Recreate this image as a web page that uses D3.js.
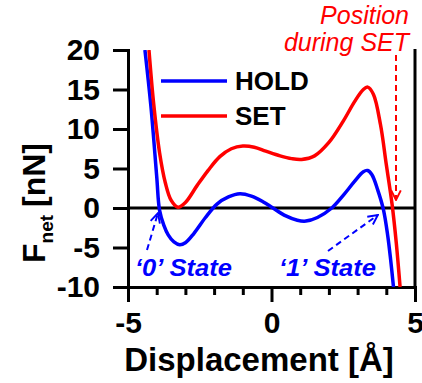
<!DOCTYPE html>
<html>
<head>
<meta charset="utf-8">
<script src="https://cdn.jsdelivr.net/npm/d3@7"></script>
<style>
  body { margin: 0; background: #fff; }
  svg { display: block; font-family: "Liberation Sans", Arial, sans-serif; }
</style>
</head>
<body>
<div id="chart"></div>
<script>
// Data
const holdX = [-4.41, -4.2, -4.0, -3.9, -3.75, -3.6, -3.4, -3.2, -3.0, -2.7, -2.3, -1.9, -1.5, -1.1, -0.7, -0.3, 0.05, 0.5, 0.9, 1.2, 1.6, 2.1, 2.5, 2.9, 3.2, 3.35, 3.5, 3.7, 3.9, 4.05, 4.15, 4.25];
const holdF = [20, 12.8, 4.0, -0.3, -2.2, -3.4, -4.3, -4.65, -4.4, -3.2, -1.2, 0.5, 1.4, 1.8, 1.5, 0.8, 0, -1.0, -1.55, -1.65, -1.2, 0, 1.6, 3.4, 4.6, 4.75, 4.2, 2.3, -0.2, -3.5, -6.5, -10];
const setX = [-4.27, -4.1, -3.9, -3.7, -3.5, -3.26, -3.0, -2.6, -2.2, -1.8, -1.4, -1.0, -0.6, -0.2, 0.3, 0.7, 1.05, 1.5, 2.0, 2.5, 2.9, 3.2, 3.35, 3.55, 3.8, 4.0, 4.2, 4.35, 4.48];
const setF = [20, 13, 7, 3.2, 1.0, 0.1, 0.7, 2.8, 4.8, 6.5, 7.5, 7.85, 7.7, 7.2, 6.6, 6.25, 6.15, 6.6, 8.3, 11, 13.5, 15, 15.3, 14.4, 10.5, 5.5, 0.5, -4.5, -10];
const seriesNames = ['HOLD', 'SET'];
const seriesColors = ['#0000ff', '#ff0000'];
const xTicks = [-5, 0, 5];
const xMinorTicks = [-4, -3, -2, -1, 1, 2, 3, 4];
const yTicks = [-10, -5, 0, 5, 10, 15, 20];
const state0 = -3.92;
const state1 = 3.88;

const w = 422, h = 383;
const margin = { top: 50, right: 7, bottom: 96, left: 128 };

const svg = d3.select('#chart').append('svg')
  .attr('width', w).attr('height', h);

const xScale = d3.scaleLinear().domain([-5, 5]).range([margin.left, w - margin.right]);
const yScale = d3.scaleLinear().domain([-10, 20]).range([h - margin.bottom, margin.top]);

svg.append('clipPath').attr('id', 'plot')
  .append('rect')
  .attr('x', margin.left).attr('y', margin.top)
  .attr('width', w - margin.left - margin.right)
  .attr('height', h - margin.top - margin.bottom);

// axes
const yAxis = d3.axisLeft(yScale).tickValues(yTicks).tickSize(15).tickPadding(13);
const gy = svg.append('g').attr('transform', `translate(${margin.left},0)`).call(yAxis);

const xAxis = d3.axisBottom(xScale).tickValues(xTicks).tickSize(15).tickPadding(14).tickFormat(d3.format('d'));
const gx = svg.append('g').attr('transform', `translate(0,${yScale(-10)})`).call(xAxis);
const xMinor = d3.axisBottom(xScale).tickValues(xMinorTicks).tickSize(8).tickFormat('');
const gxm = svg.append('g').attr('transform', `translate(0,${yScale(-10)})`).call(xMinor);
gxm.select('.domain').remove();

[gy, gx, gxm].forEach(g => {
  g.selectAll('.domain').attr('stroke', '#000').attr('stroke-width', 3);
  g.selectAll('.tick line').attr('stroke', '#000').attr('stroke-width', 3);
  g.selectAll('.tick text')
    .attr('fill', '#000')
    .style('font-size', '30px')
    .style('font-weight', 'bold')
    .style('font-family', '"Liberation Sans", Arial, sans-serif');
});
gx.selectAll('.tick text').attr('dy', '0.55em');
gx.selectAll('.tick text').text(d => d < 0 ? '-' + Math.abs(d) : d);
gy.selectAll('.tick text').text(d => d < 0 ? '-' + Math.abs(d) : d);

// right border
svg.append('line')
  .attr('x1', xScale(5)).attr('x2', xScale(5))
  .attr('y1', yScale(20) - 1).attr('y2', yScale(-10))
  .attr('stroke', '#000').attr('stroke-width', 3);

// zero line
svg.append('line')
  .attr('x1', xScale(-5)).attr('x2', xScale(5))
  .attr('y1', yScale(0)).attr('y2', yScale(0))
  .attr('stroke', '#000').attr('stroke-width', 3);

// curves
const line = d3.line()
  .curve(d3.curveCatmullRom)
  .x(d => xScale(d[0]))
  .y(d => yScale(d[1]));

const holdData = holdX.map((x, i) => [x, holdF[i]]);
const setData = setX.map((x, i) => [x, setF[i]]);

svg.append('path').datum(holdData)
  .attr('clip-path', 'url(#plot)')
  .attr('fill', 'none').attr('stroke', seriesColors[0]).attr('stroke-width', 3.5)
  .attr('d', line);
svg.append('path').datum(setData)
  .attr('clip-path', 'url(#plot)')
  .attr('fill', 'none').attr('stroke', seriesColors[1]).attr('stroke-width', 3.5)
  .attr('d', line);

// legend
seriesNames.forEach((name, i) => {
  const ly = 81 + i * 35;
  svg.append('line')
    .attr('x1', 161).attr('x2', 227).attr('y1', ly).attr('y2', ly)
    .attr('stroke', seriesColors[i]).attr('stroke-width', 3.5);
  svg.append('text')
    .attr('x', 235).attr('y', ly + 9)
    .style('font-size', '26px').style('font-weight', 'bold')
    .attr('fill', '#000')
    .text(name);
});

// arrow markers
const defs = svg.append('defs');
function marker(id, color) {
  defs.append('marker')
    .attr('id', id).attr('viewBox', '0 0 10 10')
    .attr('refX', 9).attr('refY', 5)
    .attr('markerWidth', 12).attr('markerHeight', 12)
    .attr('markerUnits', 'userSpaceOnUse')
    .attr('orient', 'auto')
    .append('path').attr('d', 'M1,1 L9,5 L1,9')
    .attr('fill', 'none').attr('stroke', color).attr('stroke-width', 1.6);
}
marker('arrRed', seriesColors[1]);
marker('arrBlue', seriesColors[0]);

// "Position during SET"
svg.append('line')
  .attr('x1', 396).attr('x2', 396)
  .attr('y1', 55).attr('y2', yScale(0) - 8)
  .attr('stroke', seriesColors[1]).attr('stroke-width', 2)
  .attr('stroke-dasharray', '6,4')
  .attr('marker-end', 'url(#arrRed)');
const pos = svg.append('text')
  .attr('fill', seriesColors[1])
  .style('font-size', '25px').style('font-style', 'italic')
  .attr('text-anchor', 'end');
pos.append('tspan').attr('x', 409).attr('y', 24).text('Position');
pos.append('tspan').attr('x', 409).attr('y', 51).text('during SET');

// state annotations
svg.append('line')
  .attr('x1', 147).attr('y1', 250)
  .attr('x2', xScale(state0) - 1).attr('y2', yScale(0) + 5)
  .attr('stroke', seriesColors[0]).attr('stroke-width', 2)
  .attr('stroke-dasharray', '6,4')
  .attr('marker-end', 'url(#arrBlue)');
svg.append('line')
  .attr('x1', 328).attr('y1', 251)
  .attr('x2', xScale(state1) - 5).attr('y2', yScale(0) + 7)
  .attr('stroke', seriesColors[0]).attr('stroke-width', 2)
  .attr('stroke-dasharray', '6,4')
  .attr('marker-end', 'url(#arrBlue)');
[['\u20180\u2019 State', 135], ['\u20181\u2019 State', 279]].forEach(([t, x]) => {
  svg.append('text')
    .attr('x', x).attr('y', 276)
    .attr('fill', seriesColors[0])
    .style('font-size', '23px').style('font-weight', 'bold').style('font-style', 'italic')
    .attr('textLength', 97).attr('lengthAdjust', 'spacingAndGlyphs')
    .text(t);
});

// axis titles
svg.append('text')
  .attr('x', 259).attr('y', 371)
  .attr('text-anchor', 'middle')
  .style('font-size', '33px').style('font-weight', 'bold')
  .text('Displacement [\u00c5]');

const yt = svg.append('text')
  .attr('transform', 'translate(45,263) rotate(-90)')
  .style('font-weight', 'bold');
yt.append('tspan').style('font-size', '32px').text('F');
yt.append('tspan').style('font-size', '19px').attr('dy', 8).text('net');
yt.append('tspan').style('font-size', '32px').attr('dy', -8).attr('dx', 8).text('[nN]');
</script>
</body>
</html>
